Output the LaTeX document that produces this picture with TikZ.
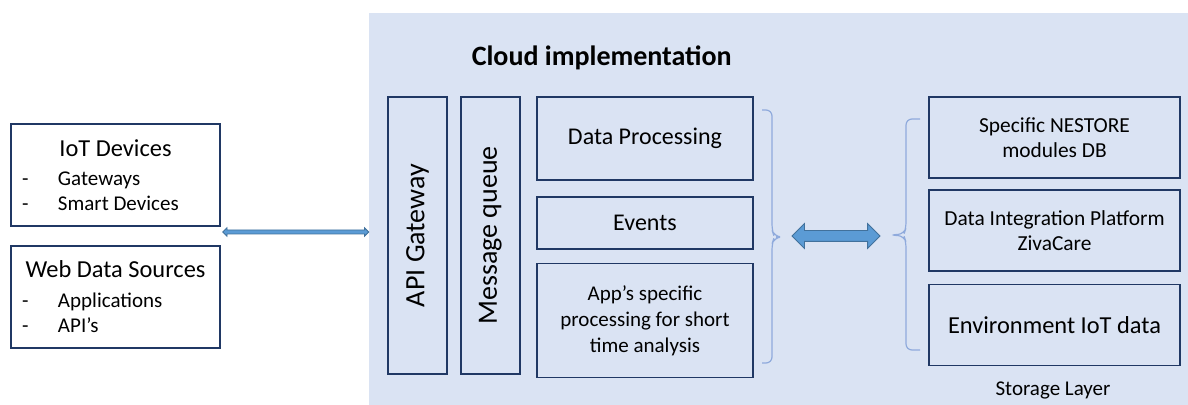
\documentclass[tikz,border=0pt]{standalone}
\usepackage{fontspec}
\setmainfont{Carlito}
\usepackage{tikz}
\usetikzlibrary{positioning, calc, shapes.arrows}

\definecolor{boxline}{HTML}{203864}
\definecolor{cloudfill}{HTML}{DAE3F3}
\definecolor{bracecol}{HTML}{8FAADC}
\definecolor{arrowfill}{HTML}{5B9BD5}
\definecolor{arrowline}{HTML}{41719C}

\newcommand{\srcitem}[1]{\makebox[104.5pt][l]{\makebox[23.5pt][l]{\hspace{5.5pt}-}#1}}

\begin{document}
\begin{tikzpicture}[
    x=0.5pt, y=-0.5pt,
    box/.style={draw=boxline, line width=0.9pt, inner sep=0pt, align=center},
    srcbox/.style={box, minimum width=104.5pt, minimum height=51pt, font=\fontsize{10.5}{12.6}\selectfont},
    procbox/.style={box, minimum width=108pt},
    storebox/.style={box, minimum width=125.5pt, minimum height=40.5pt, font=\fontsize{10.7}{12.5}\selectfont},
    vbox/.style={box, minimum width=29.5pt, minimum height=138.5pt, font=\fontsize{14}{16}\selectfont},
    blockarrow/.style={double arrow, fill=arrowfill, draw=arrowline, line width=0.4pt},
    grp/.style={draw=bracecol, line width=0.6pt, rounded corners=3pt}
]
\useasboundingbox (0,0) rectangle (1188,405);

% Cloud area
\node[fill=cloudfill, inner sep=0pt, minimum width=409.5pt, minimum height=196pt] (cloud) at (778.5,209) {};
\node[font=\bfseries\fontsize{14}{17}\selectfont] (title) at (601.7,58) {Cloud implementation};

% Data sources
\node[srcbox] (iot) at (115.5,175) {{\fontsize{12.2}{14.6}\selectfont IoT Devices}\\[2pt]
    \srcitem{Gateways}\\ \srcitem{Smart Devices}};
\node[srcbox, below=9pt of iot] (web) {{\fontsize{12.2}{14.6}\selectfont Web Data Sources}\\[2pt]
    \srcitem{Applications}\\ \srcitem{API’s}};

% Gateway and queue
\node[vbox] (api) at (417.5,235.5) {\rotatebox{90}{API Gateway}};
\node[vbox, right=6pt of api] (mq) {\rotatebox{90}{Message queue}};

% Processing
\node[procbox, minimum height=41.5pt, font=\fontsize{12}{14}\selectfont] (dp) at (645,138.5) {Data Processing};
\node[procbox, minimum height=26pt, font=\fontsize{12}{14}\selectfont, below=7.5pt of dp] (ev) {Events};
\node[procbox, minimum height=57pt, font=\fontsize{10.5}{13}\selectfont, below=6.5pt of ev] (app) {App’s specific\\ processing for short\\ time analysis};

% Storage
\node[storebox] (nm) at (1054.5,137.5) {Specific NESTORE\\ modules DB};
\node[storebox, below=5pt of nm] (zc) {Data Integration Platform\\ ZivaCare};
\node[storebox, below=6pt of zc, font=\fontsize{12.2}{14}\selectfont] (env) {Environment IoT data};
\node[font=\fontsize{10.5}{12.6}\selectfont] (store) at (1053,390) {Storage Layer};

% Braces
\coordinate (ltip) at (782,237);
\coordinate (rtip) at (890,235);
\draw[grp] (762,110) -| (772,230) -- (774,236) -- (ltip) -- (774,238) -- (772,244) |- (762,363);
\draw[grp] (920,119) -| (906,228) -- (904,234) -- (rtip) -- (904,236) -- (906,242) |- (920,350);

% Arrows
\coordinate (src) at (223,232);
\node[blockarrow, inner sep=0.8pt, minimum height=73pt, minimum width=3.8pt, double arrow head extend=1.1pt] (feed) at ($(src)!0.5!(src -| cloud.west)$) {};
\node[blockarrow, inner sep=2.5pt, minimum height=44pt, minimum width=12pt, double arrow head extend=3.5pt] (link) at ($(ltip)!0.5!(rtip)$) {};

\end{tikzpicture}
\end{document}
